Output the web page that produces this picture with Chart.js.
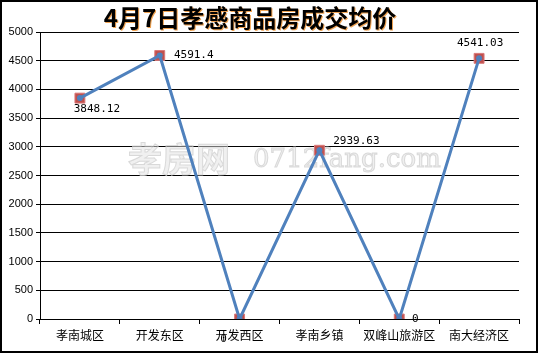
<!DOCTYPE html>
<html>
<head>
<meta charset="utf-8">
<script src="https://cdn.jsdelivr.net/npm/chart.js@4/dist/chart.umd.min.js"></script>
<style>
  body { margin: 0; background: #fff; }
  #frame { width: 538px; height: 353px; border: 2px solid #000; box-sizing: border-box; }
  canvas { display: block; }
</style>
</head>
<body>
<div id="frame"><canvas id="chart" width="534" height="349"></canvas></div>
<script>
// Daten
const districts = ["孝南城区", "开发东区", "开发西区", "孝南乡镇", "双峰山旅游区", "南大经济区"];
const avgPrice = [3848.12, 4591.4, 0, 2939.63, 0, 4541.03];
const priceLabels = ["3848.12", "4591.4", "0", "2939.63", "0", "4541.03"];
const chartTitle = "4月7日孝感商品房成交均价";

// Position der Beschriftung relativ zum Punkt (dx, dy)
const labelOffsets = [[17, 11], [34, 0], [-16, 20], [37, -9], [16, 0], [1, -15]];

const titlePlugin = {
    id: "titleAndWatermark",
    beforeDatasetsDraw(chart) {
        const ctx = chart.ctx;
        ctx.save();
        // Wasserzeichen
        ctx.fillStyle = "rgba(225,225,225,0.5)";
        ctx.strokeStyle = "rgba(205,205,205,0.7)";
        ctx.lineWidth = 1;
        ctx.textBaseline = "middle";
        ctx.font = "bold 34px 'Noto Sans CJK SC'";
        ctx.fillText("孝房网", 126, 157);
        ctx.strokeText("孝房网", 126, 157);
        ctx.font = "26px 'DejaVu Serif'";
        ctx.fillText("0712fang.com", 251, 158);
        ctx.strokeText("0712fang.com", 251, 158);
        ctx.restore();
    },
    afterDraw(chart) {
        const ctx = chart.ctx;
        ctx.save();
        ctx.font = "bold 24px 'Noto Sans CJK SC'";
        ctx.textAlign = "center";
        ctx.textBaseline = "middle";
        ctx.shadowColor = "rgba(235,140,40,0.8)";
        ctx.shadowOffsetX = 1;
        ctx.shadowOffsetY = 1;
        ctx.fillStyle = "#000";
        ctx.fillText(chartTitle, 248, 16);
        ctx.restore();
    }
};

const valueLabelPlugin = {
    id: "valueLabels",
    afterDatasetsDraw(chart) {
        const ctx = chart.ctx;
        const meta = chart.getDatasetMeta(0);
        ctx.save();
        ctx.font = "11px 'DejaVu Sans Mono'";
        ctx.fillStyle = "#000";
        ctx.textAlign = "center";
        ctx.textBaseline = "middle";
        meta.data.forEach((pt, i) => {
            ctx.fillText(priceLabels[i], pt.x + labelOffsets[i][0], pt.y + labelOffsets[i][1]);
        });
        ctx.restore();
    }
};

new Chart(document.getElementById("chart"), {
    type: "line",
    data: {
        labels: districts,
        datasets: [{
            data: avgPrice,
            borderColor: "#4F81BD",
            borderWidth: 3,
            pointStyle: "circle",
            pointRadius: 3,
            pointBorderWidth: 0,
            pointBackgroundColor: "#4F81BD",
            pointBorderColor: "#4F81BD",
            tension: 0,
            order: 1
        }, {
            data: avgPrice,
            showLine: false,
            pointStyle: "rect",
            pointRadius: 7,
            pointBackgroundColor: "#C0504D",
            pointBorderColor: "#D9797A",
            pointBorderWidth: 1,
            order: 2
        }]
    },
    options: {
        responsive: false,
        animation: false,
        layout: { padding: { top: 30, right: 17, left: 0, bottom: 0 } },
        plugins: {
            legend: { display: false },
            tooltip: { enabled: false }
        },
        scales: {
            x: {
                offset: true,
                afterFit: scale => { scale.height = 32; },
                grid: {
                    offset: true,
                    drawOnChartArea: false,
                    drawTicks: true,
                    tickLength: 5,
                    color: "#000"
                },
                border: { display: true, color: "#000" },
                ticks: {
                    color: "#000",
                    padding: 4,
                    maxRotation: 0,
                    autoSkip: false,
                    font: { family: "'Noto Sans CJK SC'", size: 12 }
                }
            },
            y: {
                min: 0,
                max: 5000,
                afterFit: scale => { scale.width = 38; },
                grid: {
                    color: "#000",
                    lineWidth: 1,
                    tickLength: 4
                },
                border: { display: true, color: "#000" },
                ticks: {
                    stepSize: 500,
                    color: "#000",
                    padding: 3,
                    callback: v => String(v),
                    font: { family: "'Liberation Sans'", size: 11 }
                }
            }
        }
    },
    plugins: [titlePlugin, valueLabelPlugin]
});
</script>
</body>
</html>
